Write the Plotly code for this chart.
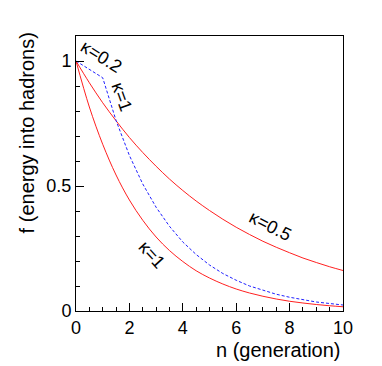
import plotly.graph_objects as go

# generations
n = [0, 0.5, 1, 1.5, 2, 2.5, 3, 3.5, 4, 4.5, 5, 5.5, 6, 6.5, 7, 7.5, 8, 8.5, 9, 9.5, 10]

f_k05 = [1.0, 0.913, 0.833, 0.761, 0.694, 0.634, 0.579, 0.528, 0.482, 0.440, 0.402,
         0.367, 0.335, 0.306, 0.279, 0.255, 0.233, 0.212, 0.194, 0.177, 0.162]
f_k1 = [1.0, 0.816, 0.667, 0.544, 0.444, 0.363, 0.296, 0.242, 0.198, 0.161, 0.132,
        0.108, 0.088, 0.072, 0.059, 0.048, 0.039, 0.032, 0.026, 0.021, 0.017]
f_mix = [1.0, 0.967, 0.933, 0.762, 0.622, 0.508, 0.415, 0.339, 0.276, 0.226, 0.184,
         0.150, 0.123, 0.100, 0.082, 0.067, 0.055, 0.044, 0.036, 0.030, 0.024]

labels = ["κ=0.2", "κ=1", "κ=0.5", "κ=1"]
label_x = [0.97, 1.72, 7.27, 2.85]
label_y = [1.016, 0.856, 0.34, 0.224]
label_angle = [32, 70, 27, 48]

FONT = "Liberation Sans, Arial, sans-serif"

fig = go.Figure()
fig.add_trace(go.Scatter(x=n, y=f_k05, mode="lines", line=dict(color="#ff2020", width=1, shape="spline")))
fig.add_trace(go.Scatter(x=n, y=f_k1, mode="lines", line=dict(color="#ff2020", width=1, shape="spline")))
fig.add_trace(go.Scatter(x=n, y=f_mix, mode="lines", line=dict(color="#2020ff", width=1, dash="3px,2px")))

for t, x, y, a in zip(labels, label_x, label_y, label_angle):
    fig.add_annotation(x=x, y=y, text=t, textangle=a, showarrow=False,
                       font=dict(family=FONT, size=18, color="black"))

# axis titles ROOT-style (right / top aligned)
fig.add_annotation(xref="paper", yref="paper", x=1.0, y=-0.142, xanchor="right", yanchor="middle",
                   text="n (generation)", showarrow=False, font=dict(family=FONT, size=20, color="black"))
fig.add_annotation(xref="paper", yref="paper", x=-0.18, y=1.022, xanchor="center", yanchor="top",
                   text="f (energy into hadrons)", textangle=-90, showarrow=False,
                   font=dict(family=FONT, size=20, color="black"))

# page body has an 8px margin, so the figure is a bit smaller than the window
fig.update_layout(
    width=374, height=358,
    margin=dict(l=68, r=39, t=28, b=55),
    paper_bgcolor="white", plot_bgcolor="white",
    showlegend=False,
    font=dict(family=FONT, size=18, color="black"),
)
fig.update_xaxes(range=[0, 10], dtick=2, tick0=0, ticks="inside", ticklen=8, tickcolor="black",
                 showgrid=False, zeroline=False, showline=True, linecolor="black", linewidth=1, mirror=True,
                 minor=dict(dtick=0.5, ticks="inside", ticklen=4, tickcolor="black", showgrid=False))
fig.update_yaxes(range=[0, 1.1], dtick=0.5, tick0=0, ticks="inside", ticklen=8, tickcolor="black",
                 showgrid=False, zeroline=False, showline=True, linecolor="black", linewidth=1, mirror=True,
                 minor=dict(dtick=0.1, ticks="inside", ticklen=4, tickcolor="black", showgrid=False))

fig.write_html("out.html")
